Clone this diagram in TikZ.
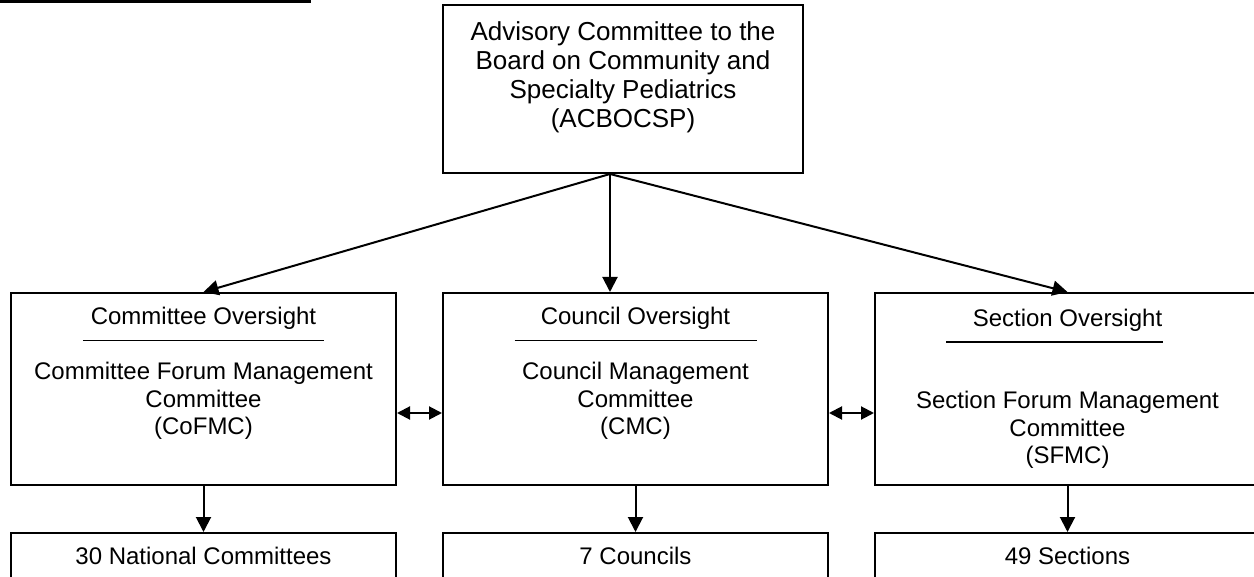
\documentclass[tikz,border=0pt]{standalone}
\usepackage{fontspec}
\setmainfont{Liberation Sans}
\usetikzlibrary{arrows.meta, positioning}

\begin{document}
\begin{tikzpicture}[x=0.5pt, y=-0.5pt,
  every node/.style={draw,line width=1pt,align=center,font=\fontsize{12}{13.75}\selectfont},
  board/.style={minimum width=180pt,minimum height=84pt,font=\fontsize{13}{14.5}\selectfont},
  forum/.style={minimum width=192.5pt,minimum height=96pt},
  group/.style={minimum width=192.5pt,minimum height=23pt},
  arr/.style={line width=1pt,-{Triangle[length=7.5pt,width=7.5pt]}},
  both/.style={line width=1pt,{Triangle[length=6.5pt,width=6.5pt]}-{Triangle[length=6.5pt,width=6.5pt]}}]
\path[use as bounding box,clip] (0,0) rectangle (1254,577);
\fill (0,0) rectangle (311,3.5);
\node[board] (acb) at (623,89) {Advisory Committee to the\\Board on Community and\\Specialty Pediatrics\\(ACBOCSP)\\\mbox{}};
\node[forum] (cofmc) at (203.5,389) {Committee Oversight\\\rule[5.7pt]{120.5pt}{0.65pt}\\Committee Forum Management\\Committee\\(CoFMC)\\\strut};
\node[forum,right=22.5pt of cofmc] (cmc) {Council Oversight\\\rule[5.7pt]{121pt}{0.65pt}\\Council Management\\Committee\\(CMC)\\\strut};
\node[forum,right=22.5pt of cmc] (sfmc) {Section Oversight\\\hspace{-13pt}\rule[5.7pt]{108.5pt}{0.65pt}\\\mbox{}\\Section Forum Management\\Committee\\(SFMC)};
\node[group,below=23pt of cofmc] (natcom) {30 National Committees};
\node[group,below=23pt of cmc] (councils) {7 Councils};
\node[group,below=23pt of sfmc] (sections) {49 Sections};
\coordinate (apex) at ([xshift=-6.5pt]acb.south);
\draw[arr] (apex) -- (cofmc.north);
\draw[arr] (apex) -- (apex |- cmc.north);
\draw[arr] (apex) -- (sfmc.north);
\draw[arr] (cofmc) -- (natcom);
\draw[arr] (cmc) -- (councils);
\draw[arr] (sfmc) -- (sections);
\draw[both] ([yshift=-12pt]cofmc.east) -- ([yshift=-12pt]cmc.west);
\draw[both] ([yshift=-12pt]cmc.east) -- ([yshift=-12pt]sfmc.west);
\end{tikzpicture}
\end{document}
